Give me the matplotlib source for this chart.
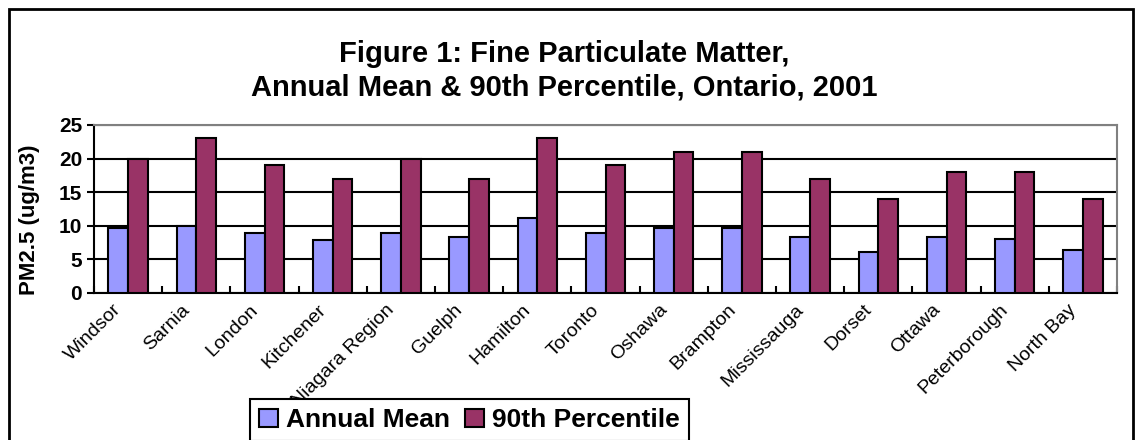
import numpy as np
import matplotlib.pyplot as plt
import matplotlib.transforms as mtransforms
from matplotlib.patches import Rectangle

plt.rcParams['font.family'] = ['Liberation Sans', 'DejaVu Sans']

cities = ["Windsor", "Sarnia", "London", "Kitchener", "Niagara Region", "Guelph",
          "Hamilton", "Toronto", "Oshawa", "Brampton", "Mississauga", "Dorset",
          "Ottawa", "Peterborough", "North Bay"]
annual_mean = [9.7, 10, 9, 7.9, 9, 8.4, 11.1, 9, 9.7, 9.7, 8.4, 6.1, 8.4, 8.1, 6.4]
pct90 = [20, 23, 19, 17, 20, 17, 23, 19, 21, 21, 17, 14, 18, 18, 14]

fig = plt.figure(figsize=(11.36, 4.4), dpi=100)
ax = fig.add_axes([94 / 1136, 1 - 293 / 440, (1117 - 94) / 1136, (293 - 125) / 440])

x = np.arange(len(cities))
w = 0.29
b1 = ax.bar(x - w / 2, annual_mean, w, color="#9999FF", edgecolor="black", linewidth=1.5,
            label="Annual Mean", zorder=3)
b2 = ax.bar(x + w / 2, pct90, w, color="#993366", edgecolor="black", linewidth=1.5,
            label="90th Percentile", zorder=3)

ax.set_xlim(-0.5, len(cities) - 0.5)
ax.set_ylim(0, 25)
ax.set_yticks([0, 5, 10, 15, 20, 25])
ax.yaxis.grid(True, color="black", linewidth=1.5, zorder=0)
ax.set_axisbelow(True)

ax.set_xticks(x)
ax.set_xticklabels(cities, rotation=45, ha="right", rotation_mode="anchor", fontsize=14)
ax.tick_params(axis="x", length=0, pad=6)
shift = mtransforms.ScaledTranslation(-0.15, 0, fig.dpi_scale_trans)
for t in ax.get_xticklabels():
    t.set_transform(t.get_transform() + shift)
ax.set_xticks(np.arange(len(cities) + 1) - 0.5, minor=True)
ax.tick_params(axis="x", which="minor", direction="in", length=5, width=1.5)
ax.tick_params(axis="y", direction="out", length=5, width=1.5, labelsize=15)
for t in ax.get_yticklabels():
    t.set_fontweight("bold")

for s in ["left", "bottom"]:
    ax.spines[s].set_linewidth(1.5)
    ax.spines[s].set_color("black")
for s in ["top", "right"]:
    ax.spines[s].set_linewidth(1.5)
    ax.spines[s].set_color("#808080")

ax.set_ylabel("PM2.5 (ug/m3)", fontsize=16, fontweight="bold", va="center")
ax.yaxis.set_label_coords(-0.0626, 0.435)

fig.text(0.497, 1 - 71 / 440, "Figure 1: Fine Particulate Matter,\nAnnual Mean & 90th Percentile, Ontario, 2001",
         ha="center", va="center", fontsize=21, fontweight="bold", linespacing=1.27)

leg = fig.legend(handles=[b1, b2], loc="upper left", bbox_to_anchor=(250 / 1136, 1 - 399 / 440),
                 ncol=2, frameon=True, fancybox=False, edgecolor="black", framealpha=1,
                 prop={"weight": "bold", "size": 19}, handlelength=0.7, handleheight=0.7,
                 handletextpad=0.3, columnspacing=0.6, borderpad=0.35, borderaxespad=0)
leg.get_frame().set_linewidth(1.5)
leg.set_zorder(10)

fig.patches.append(Rectangle((9 / 1136, -0.05), (1133 - 9) / 1136, 1.05 - 9 / 440,
                             transform=fig.transFigure, fill=False, edgecolor="black",
                             linewidth=2, clip_on=False))

fig.savefig("out.png", dpi=100)
